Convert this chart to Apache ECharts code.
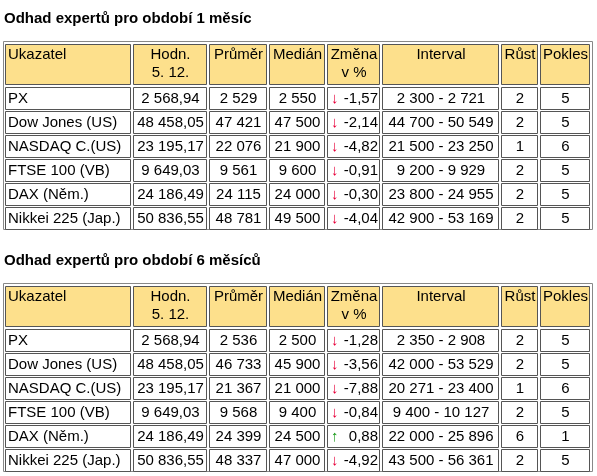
<!DOCTYPE html><html><head><meta charset="utf-8"><script src="https://cdn.jsdelivr.net/npm/echarts@6/dist/echarts.min.js"></script>
<style>html,body{margin:0;padding:0;background:#fff}#c{width:597px;height:476px}</style></head><body><div id="c"></div><script>
const titles=["Odhad expertů pro období 1 měsíc","Odhad expertů pro období 6 měsíců"];
const headers=["Ukazatel","Hodn.\n5. 12.","Průměr","Medián","Změna\nv %","Interval","Růst","Pokles"];
const names=["PX","Dow Jones (US)","NASDAQ C.(US)","FTSE 100 (VB)","DAX (Něm.)","Nikkei 225 (Jap.)"];
const values=["2 568,94","48 458,05","23 195,17","9 649,03","24 186,49","50 836,55"];
const avg1=["2 529","47 421","22 076","9 561","24 115","48 781"];
const med1=["2 550","47 500","21 900","9 600","24 000","49 500"];
const chg1=["-1,57","-2,14","-4,82","-0,91","-0,30","-4,04"];
const int1=["2 300 - 2 721","44 700 - 50 549","21 500 - 23 250","9 200 - 9 929","23 800 - 24 955","42 900 - 53 169"];
const up1=[2,2,1,2,2,2];const down1=[5,5,6,5,5,5];
const avg2=["2 536","46 733","21 367","9 568","24 399","48 337"];
const med2=["2 500","45 900","21 000","9 400","24 500","47 000"];
const chg2=["-1,28","-3,56","-7,88","-0,84","0,88","-4,92"];
const int2=["2 350 - 2 908","42 000 - 53 529","20 271 - 23 400","9 400 - 10 127","22 000 - 25 896","43 500 - 56 361"];
const up2=[2,2,1,2,6,2];const down2=[5,5,6,5,1,5];

const colX=[5,133,209,269,327,382,501,540,592];
const aligns=['left','center','center','center','left','center','center','center'];
const els=[];
const F='15px "Liberation Sans", Arial, sans-serif';
function table(top,title,avg,med,chg,intv,up,down){
  els.push({type:'text',left:4,top:top-33,style:{text:title,font:'bold 15px "Liberation Sans", Arial',fill:'#000'}});
  els.push({type:'rect',shape:{x:3.5,y:top-2.5,width:589,height:2+40+24*6+2},style:{fill:'none',stroke:'#888',lineWidth:1}});
  const rows=[headers];
  for(let i=0;i<6;i++){
    const c=parseFloat(chg[i].replace(',','.'));
    rows.push([names[i],values[i],avg[i],med[i],{arrow:c<0?'↓':'↑',col:c<0?'#e8003a':'#1a9a1a',txt:' '+chg[i]},intv[i],String(up[i]),String(down[i])]);
  }
  rows.forEach((r,ri)=>{
    const y=ri==0?top:top+43+24*(ri-1); const h=ri==0?40:22;
    r.forEach((t,ci)=>{
      const x=colX[ci], w=colX[ci+1]-colX[ci]-3;
      els.push({type:'rect',shape:{x:x+0.5,y:y+0.5,width:w,height:h},style:{fill:ri==0?'#fde08c':'#fff',stroke:'#555',lineWidth:1}});
      const al=ri==0?(ci==0?'left':'center'):aligns[ci];
      const tx=al=='left'?x+3:x+w/2+1;
      if(typeof t==='object'){
        els.push({type:'text',x:x+4,y:y+h/2+1,style:{text:t.arrow,font:F,fill:t.col,verticalAlign:'middle'}});
        els.push({type:'text',x:x+w-1,y:y+h/2+1,style:{text:t.txt,font:F,fill:'#000',align:'right',verticalAlign:'middle'}});
      } else if(ri==0){
        els.push({type:'text',x:tx,y:y+2,style:{text:t,font:F,fill:'#000',align:al,verticalAlign:'top',lineHeight:18}});
      } else {
        els.push({type:'text',x:tx,y:y+h/2+1,style:{text:t,font:F,fill:'#000',align:al,verticalAlign:'middle'}});
      }
    });
  });
}
table(44,titles[0],avg1,med1,chg1,int1,up1,down1);
table(286,titles[1],avg2,med2,chg2,int2,up2,down2);
const ch=echarts.init(document.getElementById('c'));
ch.setOption({animation:false,graphic:{elements:els}});
</script></body></html>
